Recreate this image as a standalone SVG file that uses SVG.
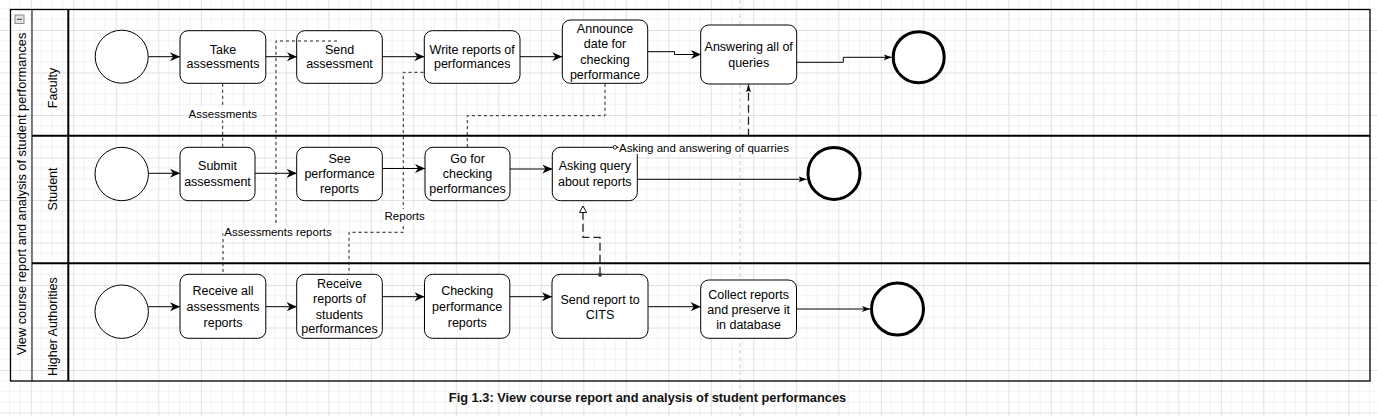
<svg xmlns="http://www.w3.org/2000/svg" width="1377" height="416" viewBox="0 0 1377 416">
<style>
  .bx{fill:#fff;stroke:#000;stroke-width:1}
  .st{fill:#fff;stroke:#000;stroke-width:1}
  .en{fill:#fff;stroke:#000;stroke-width:3}
  .t{font-family:"Liberation Sans",Arial,sans-serif;font-size:12.5px;text-anchor:middle;fill:#000}
  .lb{font-family:"Liberation Sans",Arial,sans-serif;font-size:11.5px;text-anchor:middle;fill:#000}
  .lane{font-family:"Liberation Sans",Arial,sans-serif;font-size:12.5px;text-anchor:middle;fill:#000}
  .pool{font-family:"Liberation Sans",Arial,sans-serif;font-size:12.8px;text-anchor:middle;fill:#000}
  .cap{font-family:"Liberation Sans",Arial,sans-serif;font-size:12.8px;font-weight:bold;text-anchor:middle;fill:#111}
  .f{fill:none;stroke:#000;stroke-width:1}
  .fa{marker-end:url(#arr)}
  .fs{marker-end:url(#arrS)}
  .d{fill:none;stroke:#222;stroke-width:1;stroke-dasharray:3 3}
  .m{fill:none;stroke:#222;stroke-width:1.3;stroke-dasharray:8 4}
  .lbg{fill:#fff}
</style>
<defs>
  <pattern id="grid" x="30.8" y="30" width="42.5" height="42.5" patternUnits="userSpaceOnUse">
    <path d="M10.625,0V42.5M21.25,0V42.5M31.875,0V42.5M0,10.625H42.5M0,21.25H42.5M0,31.875H42.5" stroke="#f1f1f1" stroke-width="1" fill="none"/>
    <path d="M0.5,0V42.5M0,0.5H42.5" stroke="#e1e1e1" stroke-width="1" fill="none"/>
  </pattern>
  <marker id="arr" markerUnits="userSpaceOnUse" markerWidth="10" markerHeight="9" refX="10" refY="4.5" orient="auto">
    <path d="M0,0L10,4.5L0,9L3,4.5Z" fill="#000"/>
  </marker>
  <marker id="arrS" markerUnits="userSpaceOnUse" markerWidth="8" markerHeight="6" refX="8" refY="3" orient="auto">
    <path d="M0,0L8,3L0,6L2,3Z" fill="#000"/>
  </marker>
  <marker id="arrM" markerUnits="userSpaceOnUse" markerWidth="8" markerHeight="5" refX="8" refY="2.5" orient="auto">
    <path d="M0,0L8,2.5L0,5L1.5,2.5Z" fill="#111"/>
  </marker>
  <marker id="tri" markerUnits="userSpaceOnUse" markerWidth="10" markerHeight="10" refX="7" refY="4" orient="auto">
    <path d="M0.5,0.5L7,4L0.5,7.5Z" fill="#fff" stroke="#111" stroke-width="1"/>
  </marker>
  <marker id="dotS" markerUnits="userSpaceOnUse" markerWidth="6" markerHeight="6" refX="3" refY="3" orient="auto">
    <circle cx="3" cy="3" r="2" fill="#333"/>
  </marker>
  <marker id="ovS" markerUnits="userSpaceOnUse" markerWidth="6" markerHeight="6" refX="3" refY="3" orient="auto">
    <circle cx="3" cy="3" r="1.8" fill="#fff" stroke="#222" stroke-width="1"/>
  </marker>
</defs>

<rect x="0" y="0" width="1377" height="416" fill="#fff"/>
<rect x="0" y="0" width="1377" height="416" fill="url(#grid)"/>
<line x1="740" y1="0" x2="740" y2="416" stroke="#c9c9c9" stroke-width="1" stroke-dasharray="4 3"/>

<g id="pool">
  <rect x="10.5" y="9.5" width="1359.5" height="371.5" fill="none" stroke="#000" stroke-width="1.3"/>
  <line x1="32" y1="9.5" x2="32" y2="381" stroke="#000" stroke-width="1"/>
  <line x1="68.3" y1="9.5" x2="68.3" y2="381" stroke="#000" stroke-width="2"/>
  <rect x="15" y="15" width="9" height="8.5" fill="#e4e4e4" stroke="#8a8a8a" stroke-width="1"/>
  <line x1="17" y1="19.3" x2="22" y2="19.3" stroke="#333" stroke-width="1"/>
  <text class="pool" transform="translate(25.7,194) rotate(-90)">View course report and analysis of student performances</text>
</g>
<g id="lane-faculty">
  <text class="lane" transform="translate(56.8,88) rotate(-90)">Faculty</text>
</g>
<g id="lane-student">
  <line x1="32" y1="135.7" x2="1370" y2="135.7" stroke="#000" stroke-width="2"/>
  <text class="lane" transform="translate(56.8,189) rotate(-90)">Student</text>
</g>
<g id="lane-higher">
  <line x1="32" y1="263.3" x2="1370" y2="263.3" stroke="#000" stroke-width="2"/>
  <text class="lane" transform="translate(56.8,326.7) rotate(-90)">Higher Authorities</text>
</g>

<g id="start-faculty"><circle class="st" cx="121.7" cy="56.7" r="26.5"/></g>
<g id="take-assessments">
  <rect class="bx" x="180" y="30.7" width="85.8" height="52.6" rx="8"/>
  <text class="t" x="223" y="53.6">Take</text><text class="t" x="223" y="68.3">assessments</text>
</g>
<g id="send-assessment">
  <rect class="bx" x="296.7" y="30.7" width="85.6" height="52.6" rx="8"/>
  <text class="t" x="339.5" y="53.6">Send</text><text class="t" x="339.5" y="68.3">assessment</text>
</g>
<g id="write-reports">
  <rect class="bx" x="424.3" y="30.7" width="95.7" height="52.6" rx="8"/>
  <text class="t" x="472.2" y="53.6">Write reports of</text><text class="t" x="472.2" y="68.3">performances</text>
</g>
<g id="announce-date">
  <rect class="bx" x="562.3" y="20" width="85.4" height="63.3" rx="8"/>
  <text class="t" x="605" y="33.3">Announce</text><text class="t" x="605" y="48.4">date for</text>
  <text class="t" x="605" y="63.6">checking</text><text class="t" x="605" y="78.6">performance</text>
</g>
<g id="answering-queries">
  <rect class="bx" x="700.7" y="25" width="96" height="59" rx="8"/>
  <text class="t" x="748.7" y="51">Answering all of</text><text class="t" x="748.7" y="66.6">queries</text>
</g>
<g id="end-faculty"><circle class="en" cx="918.7" cy="57.2" r="25.5"/></g>

<g id="start-student"><circle class="st" cx="121.7" cy="174" r="26.7"/></g>
<g id="submit-assessment">
  <rect class="bx" x="180" y="147.3" width="75" height="53.4" rx="8"/>
  <text class="t" x="217.5" y="169.6">Submit</text><text class="t" x="217.5" y="185.8">assessment</text>
</g>
<g id="see-reports">
  <rect class="bx" x="296.7" y="147.3" width="85.6" height="53.4" rx="8"/>
  <text class="t" x="339.5" y="162.6">See</text><text class="t" x="339.5" y="177.6">performance</text><text class="t" x="339.5" y="192.6">reports</text>
</g>
<g id="go-checking">
  <rect class="bx" x="425" y="147.3" width="85" height="53.4" rx="8"/>
  <text class="t" x="467.5" y="162.6">Go for</text><text class="t" x="467.5" y="177.6">checking</text><text class="t" x="467.5" y="192.6">performances</text>
</g>
<g id="asking-query">
  <rect class="bx" x="552.3" y="147.3" width="85" height="53.4" rx="8"/>
  <text class="t" x="594.8" y="170.3">Asking query</text><text class="t" x="594.8" y="185.5">about reports</text>
</g>
<g id="end-student"><circle class="en" cx="834" cy="173.4" r="26"/></g>

<g id="start-higher"><circle class="st" cx="121.7" cy="311.7" r="26.7"/></g>
<g id="receive-assessments">
  <rect class="bx" x="180" y="274.3" width="85.8" height="64" rx="8"/>
  <text class="t" x="223" y="295.3">Receive all</text><text class="t" x="223" y="311">assessments</text><text class="t" x="223" y="326.6">reports</text>
</g>
<g id="receive-performance-reports">
  <rect class="bx" x="296.7" y="274.3" width="85.6" height="64" rx="8"/>
  <text class="t" x="339.5" y="288.3">Receive</text><text class="t" x="339.5" y="303.3">reports of</text>
  <text class="t" x="339.5" y="318.6">students</text><text class="t" x="339.5" y="333.3">performances</text>
</g>
<g id="checking-performance">
  <rect class="bx" x="424.5" y="274.3" width="85.3" height="64" rx="8"/>
  <text class="t" x="467.2" y="295.3">Checking</text><text class="t" x="467.2" y="311">performance</text><text class="t" x="467.2" y="326.8">reports</text>
</g>
<g id="send-report-cits">
  <rect class="bx" x="552" y="274.3" width="96" height="64" rx="8"/>
  <text class="t" x="600" y="303.6">Send report to</text><text class="t" x="600" y="318.6">CITS</text>
</g>
<g id="collect-reports">
  <rect class="bx" x="700.7" y="280" width="95.8" height="58.3" rx="8"/>
  <text class="t" x="748.6" y="298.6">Collect reports</text><text class="t" x="748.6" y="313.6">and preserve it</text><text class="t" x="748.6" y="328.6">in database</text>
</g>
<g id="end-higher"><circle class="en" cx="897.5" cy="309" r="26"/></g>

<g id="connectors">
  <path class="f fa" d="M148.3,56.7H180"/>
  <path class="f fa" d="M265.8,56.7H297"/>
  <path class="f fa" d="M382.3,56.7H424.3"/>
  <path class="f fa" d="M520,56.7H562.3"/>
  <path class="f fa" d="M647.7,51.7H674.5V54.5H701"/>
  <path class="f fs" d="M796.7,62.3H843.3V57.3H891.7"/>
  <path class="f fa" d="M148.3,173.3H180"/>
  <path class="f fa" d="M255,173.3H296.7"/>
  <path class="f fa" d="M382.3,168.5H425"/>
  <path class="f fa" d="M510,169H552.3"/>
  <path class="f fs" d="M637.3,179.3H806.5"/>
  <path class="f fa" d="M148.3,306.7H180"/>
  <path class="f fa" d="M265.8,306.7H296.7"/>
  <path class="f fa" d="M382.3,296.7H424.5"/>
  <path class="f fa" d="M509.8,296.7H552"/>
  <path class="f fa" d="M648,306.7H700.7"/>
  <path class="f fs" d="M796.5,309H870"/>

  <path class="d" d="M222.7,83.8V147"/>
  <rect class="lbg" x="188" y="106.5" width="70" height="14"/>
  <text class="lb" x="222.8" y="117.6">Assessments</text>

  <path class="d" d="M337,41H276V232H223V274"/>
  <rect class="lbg" x="223.5" y="225" width="109" height="14"/>
  <text class="lb" x="278" y="235.9">Assessments reports</text>

  <path class="d" d="M423.5,72.3H403.3V232.3H349V274"/>
  <rect class="lbg" x="384" y="209" width="41.5" height="14"/>
  <text class="lb" x="404.7" y="220.1">Reports</text>

  <path class="d" d="M605,83.8V115.7H467.3V147"/>

  <path class="m" d="M600,274.7V237.3H583V206" marker-start="url(#dotS)" marker-end="url(#tri)"/>

  <path class="m" d="M615,147.3H748.5V84.3" marker-start="url(#ovS)" marker-end="url(#arrM)"/>
  <rect class="lbg" x="618.5" y="140.5" width="172" height="13.5"/>
  <text class="lb" x="704" y="151.5">Asking and answering of quarries</text>
</g>

<text class="cap" x="647.5" y="401.7">Fig 1.3: View course report and analysis of student performances</text>
</svg>
